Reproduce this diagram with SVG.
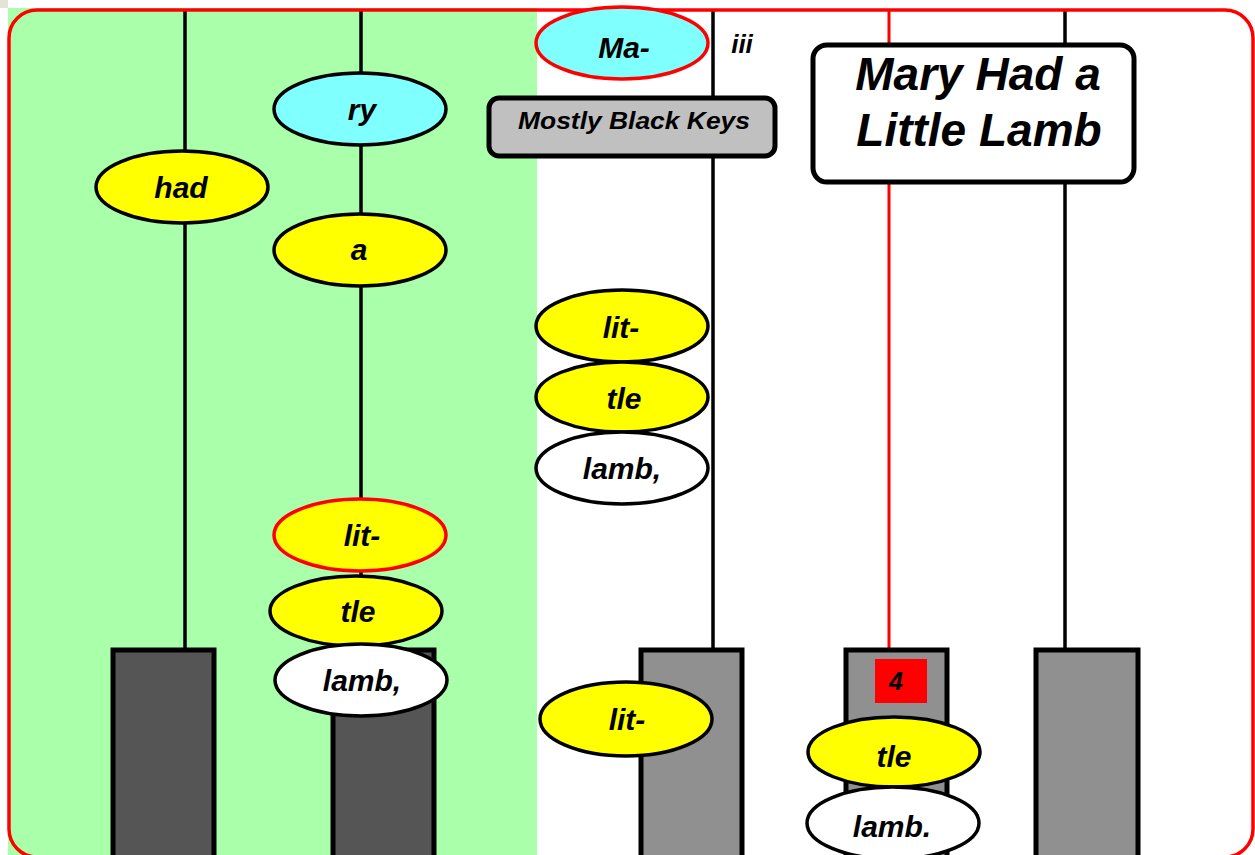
<svg xmlns="http://www.w3.org/2000/svg" width="1255" height="855" viewBox="0 0 1255 855">
<style>
text{font-family:"Liberation Sans",Arial,sans-serif;font-weight:bold;font-style:italic;fill:#000;text-anchor:middle}
.lbl{font-size:30px}
.line{stroke:#000;stroke-width:3.5;fill:none}
.rline{stroke:#ff0000;stroke-width:3;fill:none}
.keyd{fill:#555555;stroke:#000;stroke-width:5}
.keyl{fill:#909090;stroke:#000;stroke-width:5}
.ey{fill:#ffff00;stroke:#000;stroke-width:3.5}
.ec{fill:#80ffff;stroke:#000;stroke-width:3.5}
.ew{fill:#ffffff;stroke:#000;stroke-width:3.5}
.red{stroke:#ff0000}
</style>
<rect x="0" y="0" width="1255" height="855" fill="#ffffff"/>
<rect x="0" y="0" width="8" height="8" fill="#e4e4d4"/>
<rect x="8" y="8" width="529" height="847" fill="#aaffaa"/>

<g id="connectors">
<line class="line" x1="185" y1="10" x2="185" y2="650"/>
<line class="line" x1="361" y1="10" x2="361" y2="650"/>
<line class="line" x1="713" y1="10" x2="713" y2="650"/>
<line class="rline" x1="889" y1="10" x2="889" y2="660"/>
<line class="line" x1="1065" y1="10" x2="1065" y2="650"/>
</g>

<g id="key1"><rect class="keyd" x="113" y="650" width="101" height="210"/></g>
<g id="key2"><rect class="keyd" x="333" y="650" width="101" height="210"/></g>
<g id="key3"><rect class="keyl" x="641" y="650" width="101" height="210"/></g>
<g id="key4"><rect class="keyl" x="846" y="650" width="101" height="210"/></g>
<g id="key5"><rect class="keyl" x="1036" y="650" width="102" height="210"/></g>

<g id="frame"><rect x="9" y="10" width="1244" height="847" rx="28" ry="28" fill="none" stroke="#ff0000" stroke-width="3.5"/></g>

<g id="n-had"><ellipse class="ey" cx="182" cy="187" rx="86" ry="36"/><text class="lbl" x="181" y="198">had</text></g>
<g id="n-ry"><ellipse class="ec" cx="360" cy="109" rx="86" ry="36"/><text class="lbl" x="362" y="120">ry</text></g>
<g id="n-a"><ellipse class="ey" cx="360" cy="250" rx="86" ry="36"/><text class="lbl" x="359" y="260">a</text></g>
<g id="n-lit1"><ellipse class="ey red" cx="360" cy="535" rx="86" ry="36"/><text class="lbl" x="362" y="546">lit-</text></g>
<g id="n-tle1"><ellipse class="ey" cx="356" cy="611" rx="86" ry="35"/><text class="lbl" x="358" y="622">tle</text></g>
<g id="n-lamb1"><ellipse class="ew" cx="361" cy="680" rx="86" ry="36"/><text class="lbl" x="362" y="691">lamb,</text></g>

<g id="n-ma"><ellipse class="ec red" cx="622" cy="43" rx="86" ry="36"/><text class="lbl" x="624" y="58">Ma-</text></g>
<g id="n-iii"><text x="742" y="53" style="font-size:26px">iii</text></g>
<g id="n-mbk"><rect x="489" y="98" width="286" height="58" rx="10" ry="10" fill="#c0c0c0" stroke="#000" stroke-width="5"/><text x="634" y="129" style="font-size:24.5px" textLength="232" lengthAdjust="spacingAndGlyphs">Mostly Black  Keys</text></g>
<g id="n-title"><rect x="813" y="45" width="321" height="137" rx="14" ry="14" fill="#ffffff" stroke="#000" stroke-width="5"/><text x="978" y="90" style="font-size:46px">Mary Had a</text><text x="979" y="146" style="font-size:46px">Little Lamb</text></g>

<g id="n-lit2"><ellipse class="ey" cx="622" cy="326" rx="86" ry="36"/><text class="lbl" x="621" y="338">lit-</text></g>
<g id="n-tle2"><ellipse class="ey" cx="622" cy="397" rx="86" ry="35"/><text class="lbl" x="624" y="409">tle</text></g>
<g id="n-lamb2"><ellipse class="ew" cx="622" cy="468" rx="86" ry="36"/><text class="lbl" x="622" y="479">lamb,</text></g>
<g id="n-lit3"><ellipse class="ey" cx="626" cy="719" rx="86" ry="37"/><text class="lbl" x="627" y="730">lit-</text></g>

<g id="n-4"><rect x="875" y="659" width="52" height="44" fill="#ff0000"/><text x="896" y="690" style="font-size:25px">4</text></g>
<g id="n-tle3"><ellipse class="ey" cx="894" cy="752" rx="86" ry="35"/><text class="lbl" x="894" y="767">tle</text></g>
<g id="n-lamb3"><ellipse class="ew" cx="893" cy="823" rx="86" ry="36"/><text class="lbl" x="892" y="837">lamb.</text></g>
</svg>
